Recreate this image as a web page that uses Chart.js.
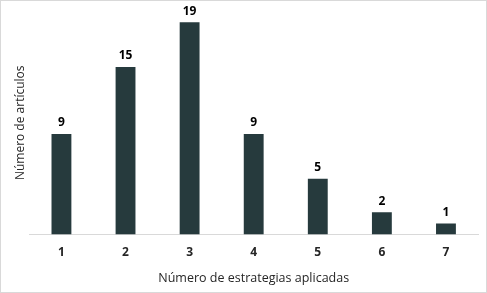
<!DOCTYPE html>
<html>
<head>
<meta charset="utf-8">
<script src="https://cdn.jsdelivr.net/npm/chart.js@4"></script>
<style>
  html, body { margin: 0; padding: 0; background: #fff; }
  #wrap { width: 487px; height: 293px; box-sizing: border-box; border: 1px solid #d9d9d9; }
</style>
</head>
<body>
<div id="wrap"><canvas id="estrategiasChart" width="485" height="291"></canvas></div>
<script>
var categorias = ['1', '2', '3', '4', '5', '6', '7'];
var articulos = [9, 15, 19, 9, 5, 2, 1];

// etiquetas de valor encima de cada barra
var etiquetasPlugin = {
    id: 'etiquetas',
    afterDatasetsDraw: function(chart) {
        var ctx = chart.ctx;
        var meta = chart.getDatasetMeta(0);
        ctx.save();
        ctx.font = 'bold 12px "Open Sans"';
        ctx.fillStyle = '#000';
        ctx.textAlign = 'center';
        ctx.textBaseline = 'bottom';
        meta.data.forEach(function(bar, i) {
            ctx.fillText(chart.data.datasets[0].data[i], bar.x, bar.y - 5);
        });
        ctx.restore();
    }
};

var ctx = document.getElementById('estrategiasChart').getContext('2d');
var chart = new Chart(ctx, {
    type: 'bar',
    data: {
        labels: categorias,
        datasets: [{
            label: 'Número de artículos',
            data: articulos,
            backgroundColor: '#263A3D',
            categoryPercentage: 1,
            barPercentage: 0.31
        }]
    },
    options: {
        responsive: false,
        animation: false,
        layout: {
            padding: { left: 8, right: 8, top: 10, bottom: 2 }
        },
        plugins: {
            legend: { display: false },
            tooltip: { enabled: false }
        },
        scales: {
            x: {
                grid: { display: false, drawTicks: false },
                border: { display: true, color: '#d9d9d9' },
                ticks: {
                    padding: 11,
                    color: '#262626',
                    font: { family: 'Open Sans', size: 12, weight: 'bold' }
                },
                title: {
                    display: true,
                    text: 'Número de estrategias aplicadas',
                    color: '#262626',
                    padding: { top: 0, bottom: 4 },
                    font: { family: 'Open Sans', size: 12.5 }
                }
            },
            y: {
                min: 0,
                max: 20,
                grid: { display: false, drawTicks: false },
                border: { display: false },
                ticks: { display: false },
                title: {
                    display: true,
                    text: 'Número de artículos',
                    color: '#262626',
                    padding: { top: 4, bottom: 2 },
                    font: { family: 'Open Sans', size: 12 }
                }
            }
        }
    },
    plugins: [etiquetasPlugin]
});
</script>
</body>
</html>
